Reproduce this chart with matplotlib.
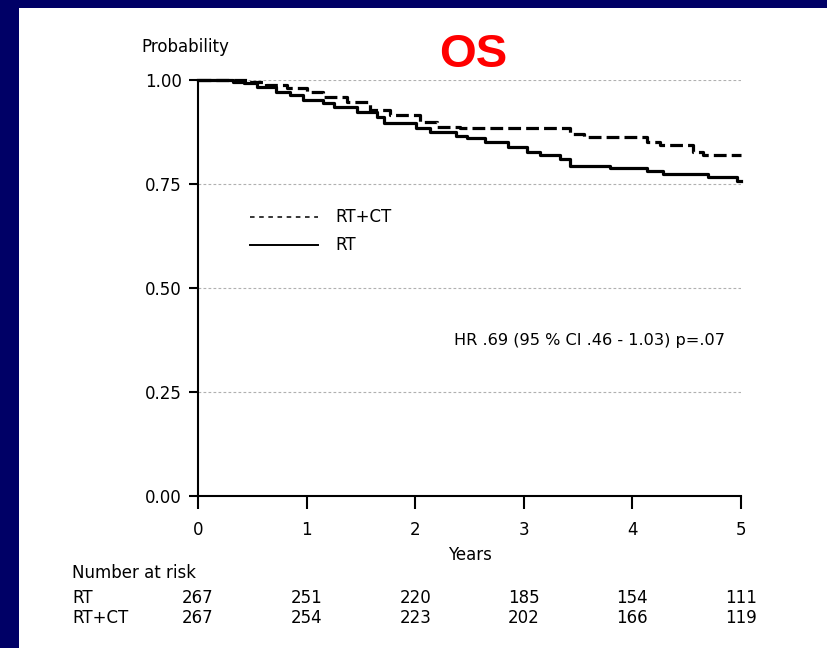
import matplotlib
matplotlib.use("Agg")
import matplotlib.pyplot as plt
from matplotlib.lines import Line2D
from matplotlib.patches import Rectangle
from matplotlib.transforms import blended_transform_factory

plt.rcParams["font.family"] = ["DejaVu Sans"]

# Kaplan-Meier step points (years, survival)
RT_TIME = [0, 0.32, 0.42, 0.54, 0.72, 0.85, 0.97, 1.15, 1.25, 1.46, 1.65, 1.71,
           2.01, 2.14, 2.38, 2.48, 2.64, 2.85, 3.03, 3.15, 3.33, 3.43, 3.79,
           4.13, 4.28, 4.70, 4.96, 5.0]
RT_SURV = [1.0, 0.996, 0.992, 0.984, 0.972, 0.964, 0.952, 0.944, 0.936, 0.924,
           0.912, 0.896, 0.884, 0.876, 0.866, 0.860, 0.850, 0.838, 0.828, 0.820,
           0.810, 0.794, 0.789, 0.782, 0.774, 0.768, 0.757, 0.757]

RTCT_TIME = [0, 0.45, 0.63, 0.82, 1.0, 1.15, 1.37, 1.58, 1.77, 2.04, 2.20, 2.41,
             3.43, 3.55, 4.13, 4.25, 4.56, 4.65, 5.0]
RTCT_SURV = [1.0, 0.996, 0.988, 0.980, 0.972, 0.960, 0.948, 0.928, 0.916, 0.900,
             0.888, 0.884, 0.870, 0.862, 0.852, 0.844, 0.828, 0.820, 0.820]

RISK_YEARS = [0, 1, 2, 3, 4, 5]
RISK_RT = [267, 251, 220, 185, 154, 111]
RISK_RTCT = [267, 254, 223, 202, 166, 119]

Y_TICKS = [0.0, 0.25, 0.5, 0.75, 1.0]
HR_TEXT = "HR .69 (95 % CI .46 - 1.03) p=.07"

W, H = 827, 648
FS = 12

fig = plt.figure(figsize=(W / 100, H / 100), dpi=100)
fig.patch.set_facecolor("#000066")
# white slide panel
fig.patches.append(Rectangle((19 / W, 0), 1 - 19 / W, (H - 8) / H,
                             transform=fig.transFigure, facecolor="white",
                             edgecolor="none", zorder=-10))

ax = fig.add_axes([198 / W, (H - 496) / H, (741 - 198) / W, (496 - 80) / H])
ax.set_facecolor("none")
ax.set_zorder(5)

ax.set_xlim(0, 5)
ax.set_ylim(0, 1.0)

for y in Y_TICKS[1:]:
    ax.axhline(y, color="#b0b0b0", lw=0.8, ls=(0, (2.5, 2)), zorder=1)

ax.step(RTCT_TIME, RTCT_SURV, where="post", color="black", lw=2.3,
        dashes=(4, 1.6), clip_on=False, zorder=3)
ax.step(RT_TIME, RT_SURV, where="post", color="black", lw=2.3,
        clip_on=False, zorder=3)

for side in ["top", "right"]:
    ax.spines[side].set_visible(False)
for side in ["left", "bottom"]:
    ax.spines[side].set_linewidth(1.5)

ax.set_xticks(RISK_YEARS)
ax.set_xticklabels([str(y) for y in RISK_YEARS])
ax.set_yticks(Y_TICKS)
ax.set_yticklabels([f"{y:.2f}" for y in Y_TICKS])
ax.tick_params(axis="x", direction="out", length=9, width=1.5, pad=9, labelsize=FS)
ax.tick_params(axis="y", direction="out", length=6.5, width=1.5, pad=5, labelsize=FS)

handles = [
    Line2D([], [], color="black", lw=1.1, dashes=(3, 3)),
    Line2D([], [], color="black", lw=1.4),
]
ax.legend(handles, ["RT+CT", "RT"], loc="center left",
          bbox_to_anchor=(0.0958, 0.636), frameon=False, fontsize=FS,
          handlelength=4.1, handletextpad=1.0, labelspacing=0.6,
          borderpad=0, borderaxespad=0)

ax.text(0.9705, 0.373, HR_TEXT, transform=ax.transAxes, ha="right",
        va="center", fontsize=11.6)

fig.text(141 / W, 1 - 47 / H, "Probability", ha="left", va="center", fontsize=FS)
fig.text(473 / W, 1 - 55 / H, "OS", ha="center", va="center", fontsize=34,
         fontweight="bold", color="#ff0000", family="Liberation Sans")
fig.text(470 / W, 1 - 555 / H, "Years", ha="center", va="center", fontsize=FS)

fig.text(72 / W, 1 - 573 / H, "Number at risk", ha="left", va="center", fontsize=FS)
fig.text(72 / W, 1 - 598 / H, "RT", ha="left", va="center", fontsize=FS)
fig.text(72 / W, 1 - 618 / H, "RT+CT", ha="left", va="center", fontsize=FS)

tr = blended_transform_factory(ax.transData, fig.transFigure)
for yr, n_rt, n_rtct in zip(RISK_YEARS, RISK_RT, RISK_RTCT):
    ax.text(yr, 1 - 598 / H, str(n_rt), transform=tr, ha="center",
            va="center", fontsize=FS, clip_on=False)
    ax.text(yr, 1 - 618 / H, str(n_rtct), transform=tr, ha="center",
            va="center", fontsize=FS, clip_on=False)

fig.savefig("out.png", dpi=100, facecolor=fig.get_facecolor())
